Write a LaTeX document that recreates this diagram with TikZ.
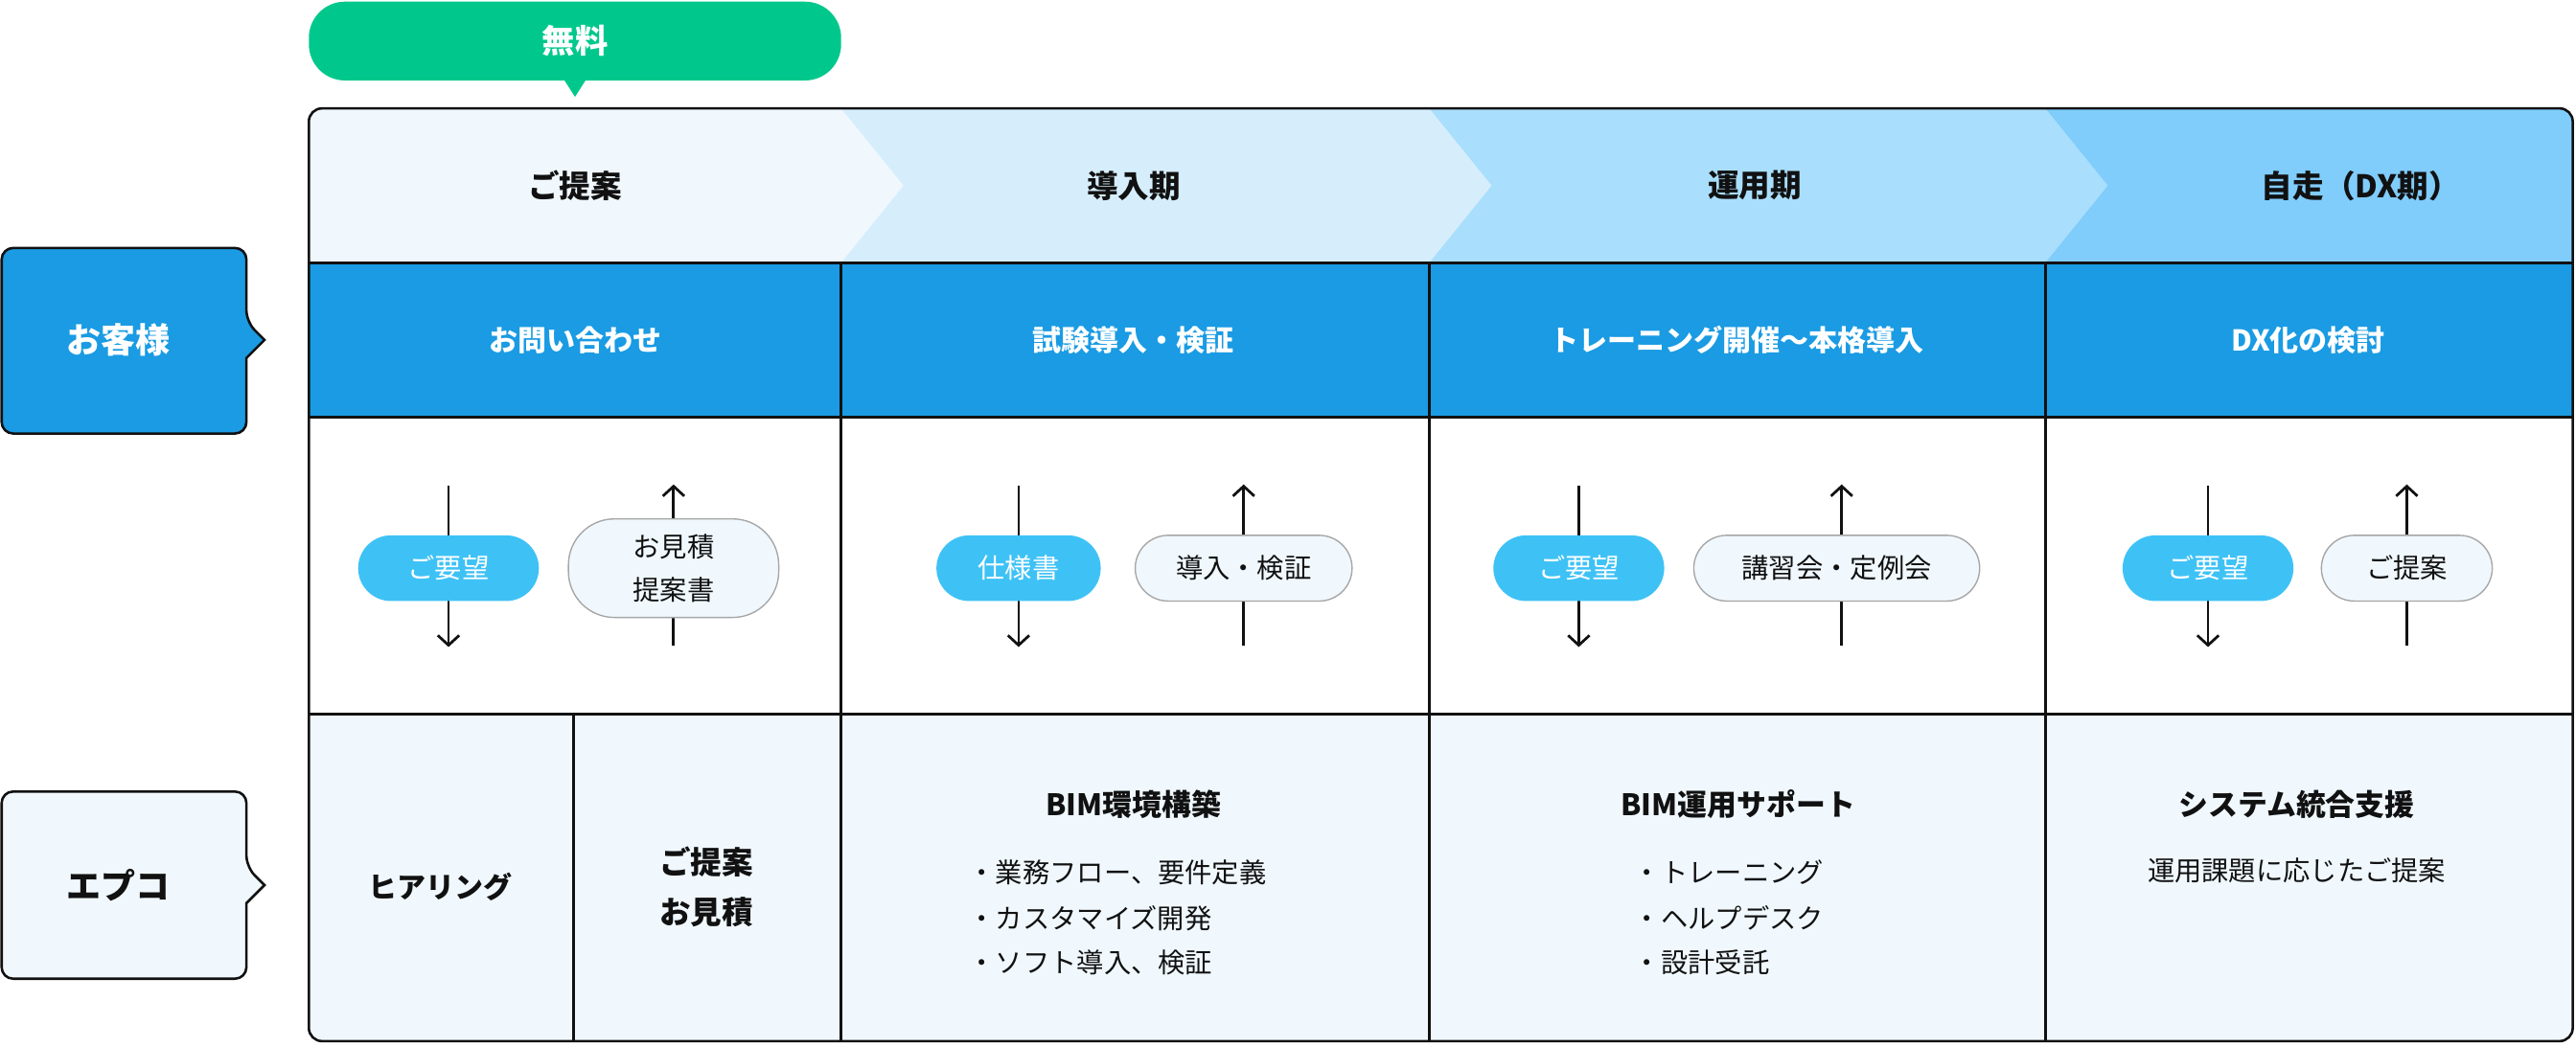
\documentclass[tikz,border=0pt]{standalone}
\usepackage{fontspec}
\setmainfont{Noto Sans CJK JP}
\usetikzlibrary{arrows.meta}
\definecolor{grn}{HTML}{00C88C}
\definecolor{pale}{HTML}{F0F8FE}
\definecolor{ph2}{HTML}{D6EEFC}
\definecolor{ph3}{HTML}{A9DEFD}
\definecolor{ph4}{HTML}{80CCFB}
\definecolor{blu}{HTML}{1A9BE3}
\definecolor{cyn}{HTML}{3EC2F6}
\definecolor{ink}{HTML}{111111}
\tikzset{
 hdr/.style={font=\fontsize{19}{22}\selectfont\bfseries,text=ink},
 wt/.style={font=\fontsize{17.5}{20}\selectfont\bfseries,text=white},
 pillc/.style={fill=cyn,rounded corners=20pt,minimum height=40pt,text=white,font=\fontsize{16.5}{19}\selectfont},
 pillw/.style={fill=pale,draw=gray!70,line width=0.8pt,rounded corners=20pt,minimum height=40pt,text=ink,font=\fontsize{16.5}{19}\selectfont,align=center},
 arr/.style={line width=1.6pt,draw=ink,-{Straight Barb[length=6pt,width=13pt,line width=1.6pt]}},
 txt/.style={font=\fontsize{16.5}{19}\selectfont,text=ink},
 btxt/.style={font=\fontsize{18}{21}\selectfont\bfseries,text=ink},
 grid/.style={line width=1.5pt,draw=ink}
}
\begin{document}
\begin{tikzpicture}[x=1pt,y=-1pt]
\useasboundingbox (0,0) rectangle (1568,637);
% free tag
\fill[grn,rounded corners=22pt] (188,1) rectangle (512,49);
\fill[grn] (343,48) -- (357,48) -- (350,59) -- cycle;
\node[font=\fontsize{20}{22}\selectfont\bfseries,text=white] (free) at (350,25) {無料};
% header phases
\begin{scope}
\clip[rounded corners=8pt] (188,66) rectangle (1566,634);
\fill[pale] (188,66) rectangle (1566,160);
\fill[ph2] (512,66) -- (870,66) -- (908,113) -- (870,160) -- (512,160) -- (550,113) -- cycle;
\fill[ph3] (870,66) -- (1245,66) -- (1283,113) -- (1245,160) -- (870,160) -- (908,113) -- cycle;
\fill[ph4] (1245,66) -- (1566,66) -- (1566,160) -- (1245,160) -- (1283,113) -- cycle;
\fill[blu] (188,160) rectangle (1566,254);
\fill[white] (188,254) rectangle (1566,435);
\fill[pale] (188,435) rectangle (1566,634);
\end{scope}
\node[hdr] (p1) at (350,113) {ご提案};
\node[hdr] (p2) at (690,113) {導入期};
\node[hdr] (p3) at (1068,113) {運用期};
\node[hdr] (p4) at (1437,113) {自走（DX期）};
\node[wt] (b1) at (350,207) {お問い合わせ};
\node[wt] (b2) at (690,207) {試験導入・検証};
\node[wt] (b3) at (1057,207) {トレーニング開催〜本格導入};
\node[wt] (b4) at (1405,207) {DX化の検討};
% grid
\draw[grid] (188,160) -- (1566,160);
\draw[grid] (188,254) -- (1566,254);
\draw[grid] (188,435) -- (1566,435);
\foreach \x in {512,870,1245} \draw[grid] (\x,160) -- (\x,634);
\draw[grid] (349,435) -- (349,634);
\draw[grid,rounded corners=8pt] (188,66) rectangle (1566,634);
% row 3
\foreach \x in {273,620,961,1344} \draw[arr] (\x,296) -- (\x,394);
\foreach \x in {410,757,1121,1465} \draw[arr] (\x,393) -- (\x,295);
\node[pillc,minimum width=110pt] (r1a) at (273,346) {ご要望};
\node[pillw,minimum width=128pt,minimum height=60pt,rounded corners=28pt,font=\fontsize{16.5}{26}\selectfont] (r1b) at (410,346) {お見積\\提案書};
\node[pillc,minimum width=100pt] (r2a) at (620,346) {仕様書};
\node[pillw,minimum width=132pt] (r2b) at (757,346) {導入・検証};
\node[pillc,minimum width=104pt] (r3a) at (961,346) {ご要望};
\node[pillw,minimum width=174pt] (r3b) at (1118,346) {講習会・定例会};
\node[pillc,minimum width=104pt] (r4a) at (1344,346) {ご要望};
\node[pillw,minimum width=104pt] (r4b) at (1465,346) {ご提案};
% row 4
\node[btxt,font=\fontsize{17.5}{20}\selectfont\bfseries] (h1) at (268,540) {ヒアリング};
\node[btxt,align=center,font=\fontsize{19}{30}\selectfont\bfseries] (h2) at (430,540) {ご提案\\お見積};
\node[btxt] (c2) at (690,490) {BIM環境構築};
\node[txt,anchor=west] (c2a) at (586,531) {・業務フロー、要件定義};
\node[txt,anchor=west] (c2b) at (586,559) {・カスタマイズ開発};
\node[txt,anchor=west] (c2c) at (586,586) {・ソフト導入、検証};
\node[btxt] (c3) at (1058,490) {BIM運用サポート};
\node[txt,anchor=west] (c3a) at (991,531) {・トレーニング};
\node[txt,anchor=west] (c3b) at (991,559) {・ヘルプデスク};
\node[txt,anchor=west] (c3c) at (991,586) {・設計受託};
\node[btxt] (c4) at (1398,490) {システム統合支援};
\node[txt] (c4a) at (1398,530) {運用課題に応じたご提案};
% left labels
\draw[line width=1.5pt,draw=ink,fill=blu,rounded corners=7pt] (1,151) -- (150,151) -- (150,196) [sharp corners] -- (161,207) -- (150,218) [rounded corners=7pt] -- (150,264) -- (1,264) -- cycle;
\node[font=\fontsize{21}{24}\selectfont\bfseries,text=white] (cust) at (72,207) {お客様};
\draw[line width=1.5pt,draw=ink,fill=pale,rounded corners=7pt] (1,482) -- (150,482) -- (150,528) [sharp corners] -- (161,539) -- (150,550) [rounded corners=7pt] -- (150,596) -- (1,596) -- cycle;
\node[font=\fontsize{21}{24}\selectfont\bfseries,text=ink] (epco) at (72,539) {エプコ};
\end{tikzpicture}
\end{document}
